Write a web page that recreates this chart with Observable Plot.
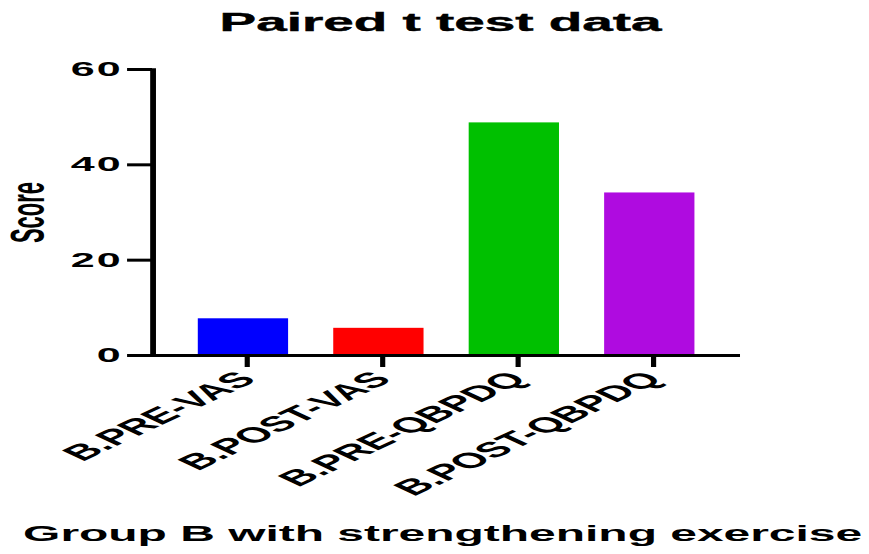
<!DOCTYPE html>
<html>
<head>
<meta charset="utf-8">
<script src="https://cdn.jsdelivr.net/npm/d3@7"></script>
<script src="https://cdn.jsdelivr.net/npm/@observablehq/plot@0.6"></script>
<style>
  html, body { margin: 0; padding: 0; background: #fff; overflow: hidden; }
  #fig {
    width: 404.2px;
    transform: scaleX(2.15);
    transform-origin: 0 0;
    font-family: "Liberation Sans", Arial, sans-serif;
    font-weight: bold;
    color: #000;
  }
  #title {
    height: 45px; line-height: 45px; font-size: 25.5px;
    text-align: center; padding-left: 5.6px; white-space: nowrap;
    -webkit-text-stroke: 0.4px #000;
  }
  #caption {
    height: 44px; line-height: 48.5px; font-size: 22.3px;
    text-align: center; padding-left: 7.6px; white-space: nowrap;
  }
  #chart svg { display: block; overflow: visible; }
  #chart g[aria-label="y-axis tick label"] text { letter-spacing: 1px; }
</style>
</head>
<body>
<div id="fig">
  <div id="title">Paired t test data</div>
  <div id="chart"></div>
  <div id="caption">Group B with strengthening exercise</div>
</div>
<script>
const categories = ["B.PRE-VAS", "B.POST-VAS", "B.PRE-QBPDQ", "B.POST-QBPDQ"];
const scores = [7.7, 5.7, 48.8, 34.1];
const barColors = ["#0000FF", "#FF0000", "#00C000", "#AF0BE0"];
const yTicks = [0, 20, 40, 60];
const yLabel = "Score";

const data = categories.map((c, i) => ({category: c, score: scores[i], color: barColors[i]}));

const chart = Plot.plot({
  width: 404.2,
  height: 465,
  marginLeft: 70.7,
  marginRight: 60,
  marginTop: 24,
  marginBottom: 155,
  style: {fontFamily: "'Liberation Sans', Arial, sans-serif", fontWeight: "bold", color: "#000", background: "#fff"},
  x: {domain: categories, padding: 0.33, label: null},
  y: {domain: [0, 60], label: null},
  marks: [
    Plot.barY(data, {x: "category", y: "score", fill: "color"}),
    Plot.ruleY([0], {stroke: "#000", strokeWidth: 3}),
    Plot.frame({anchor: "left", stroke: "#000", strokeWidth: 2.7}),
    Plot.axisY({ticks: yTicks, tickSize: 11.6, tickPadding: 2.5, strokeWidth: 3, fontSize: 20, label: null}),
    Plot.axisX({tickSize: 12, tickPadding: 8, tickRotate: -45, strokeWidth: 2.4, fontSize: 21.5, dx: 1.5, label: null}),
    Plot.text([yLabel], {frameAnchor: "left", rotate: -90, dx: -50.8, textAnchor: "middle", lineAnchor: "bottom", fontSize: 22, fontWeight: "bold"})
  ]
});
document.getElementById("chart").appendChild(chart);
</script>
</body>
</html>
